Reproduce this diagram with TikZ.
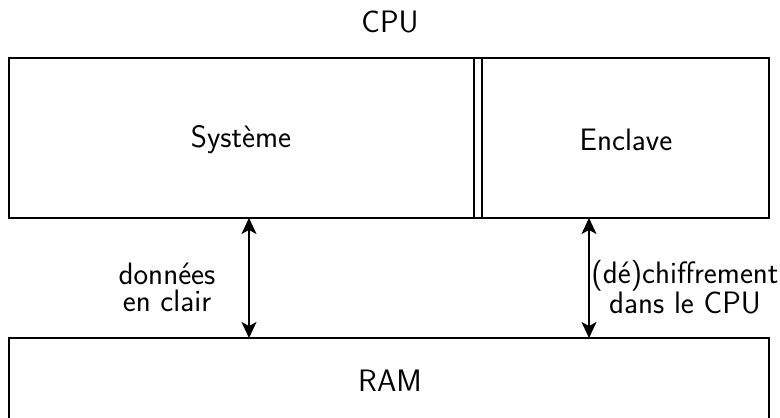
\documentclass[tikz,border=0pt]{standalone}
\usetikzlibrary{arrows.meta}
\begin{document}
\begin{tikzpicture}[x=1bp,y=-1bp,
  box/.style={draw,line width=1.6bp},
  lbl/.style={font=\sffamily\fontsize{31bp}{27bp}\selectfont,inner sep=0pt,align=center},
  link/.style={line width=1.6bp,{Stealth[length=16bp,width=15bp,inset=4bp]}-{Stealth[length=16bp,width=15bp,inset=4bp]}}]
\useasboundingbox (0,0) rectangle (780,417);
% CPU
\node[lbl] (cpu) at (390,22) {CPU};
\coordinate (cpuTL) at (9,58);
\coordinate (cpuBR) at (769,218);
\draw[box] (cpuTL) rectangle (cpuBR);
\draw[box] (474,58) -- (474,218);
\draw[box] (482,58) -- (482,218);
\node[lbl] (sys) at (241,140) {Système};
\node[lbl] (encl) at (626,140) {Enclave};
% RAM
\draw[box] (9,420) -- (9,338) -- (769,338) -- (769,420);
\node[lbl] (ram) at (390,381) {RAM};
% arrows
\coordinate (l1) at (249,218);
\coordinate (l2) at (249,338);
\coordinate (r1) at (589,218);
\coordinate (r2) at (589,338);
\draw[link] (l1) -- (l2);
\draw[link] (r1) -- (r2);
\node[lbl] (don) at (167,287) {données\\en clair};
\node[lbl] (chif) at (685,287) {(dé)chiffrement\\dans le CPU};
\end{tikzpicture}
\end{document}
